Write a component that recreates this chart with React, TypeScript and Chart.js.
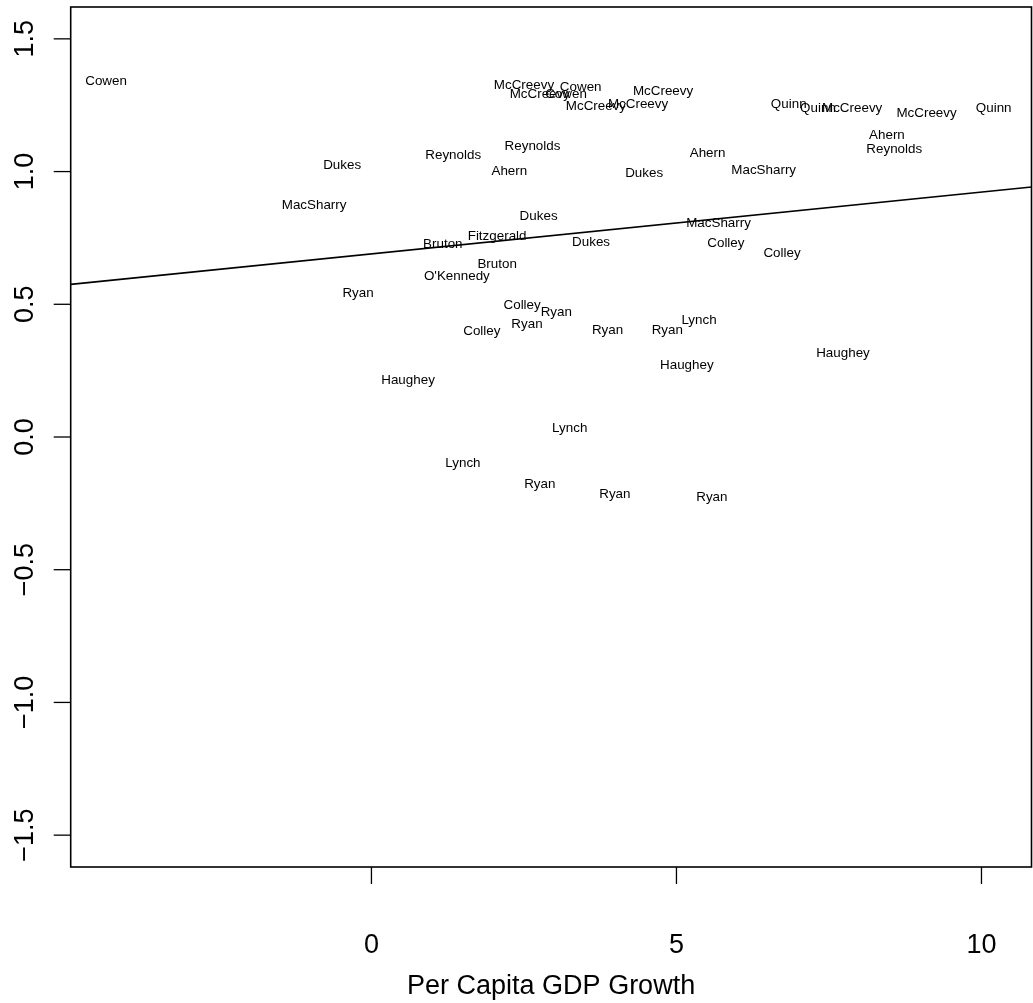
import { useEffect, useRef } from "react";
import { Chart, registerables } from "chart.js";

Chart.register(...registerables);

// Leader name shown at each point
const names = [
  "Cowen", "Dukes", "MacSharry", "Ryan", "Haughey",
  "Reynolds", "Reynolds", "Ahern", "Dukes", "Ahern",
  "Dukes", "Fitzgerald", "Bruton", "Dukes", "MacSharry",
  "Colley", "Colley", "Bruton", "O'Kennedy", "MacSharry",
  "Ahern", "Reynolds", "Colley", "Ryan", "Ryan",
  "Colley", "Ryan", "Ryan", "Lynch", "Haughey",
  "Haughey", "Lynch", "Lynch", "Ryan",
  "Ryan", "Ryan", "McCreevy", "McCreevy", "McCreevy",
  "McCreevy", "McCreevy", "Cowen", "Cowen", "Quinn",
  "Quinn", "Quinn", "McCreevy", "McCreevy",
];

// Per Capita GDP Growth (x)
const gdpGrowth = [
  -4.35, -0.48, -0.94, -0.22, 0.60,
  1.34, 2.64, 2.26, 4.47, 5.51,
  2.74, 2.06, 1.17, 3.60, 5.69,
  5.81, 6.73, 2.06, 1.40, 6.43,
  8.45, 8.57, 2.47, 3.03, 2.55,
  1.81, 3.87, 4.85, 5.37, 5.17,
  7.73, 3.25, 1.50, 2.76,
  3.99, 5.58, 2.50, 2.76, 4.78,
  3.68, 4.37, 3.19, 3.43, 6.84,
  7.32, 10.20, 7.88, 9.10,
];

// Score (y)
const scores = [
  1.348, 1.031, 0.880, 0.548, 0.221,
  1.068, 1.102, 1.008, 1.001, 1.076,
  0.839, 0.763, 0.733, 0.741, 0.812,
  0.737, 0.699, 0.658, 0.612, 1.012,
  1.144, 1.091, 0.503, 0.477, 0.432,
  0.405, 0.409, 0.409, 0.447, 0.277,
  0.323, 0.040, -0.093, -0.172,
  -0.209, -0.221, 1.332, 1.298, 1.310,
  1.253, 1.261, 1.298, 1.325, 1.261,
  1.246, 1.246, 1.246, 1.227,
];

// Fitted regression line (endpoints at the plot edges)
const fitX = [-4.93, 10.82];
const fitY = [0.575, 0.942];

const xTicks = [0, 5, 10];
const xTickLabels = ["0", "5", "10"];
const yTicks = [-1.5, -1.0, -0.5, 0.0, 0.5, 1.0, 1.5];
const yTickLabels = ["\u22121.5", "\u22121.0", "\u22120.5", "0.0", "0.5", "1.0", "1.5"];
const xTitle = "Per Capita GDP Growth";

const FONT = "'Liberation Sans', Arial, Helvetica, sans-serif";

export default function App() {
  const ref = useRef<HTMLCanvasElement>(null);

  useEffect(() => {
    const canvas = ref.current;
    if (!canvas) return;

    const rPlot = {
      id: "rPlot",
      afterDraw(chart: any) {
        const ctx = chart.ctx as CanvasRenderingContext2D;
        const { left, right, top, bottom } = chart.chartArea;
        const xs = chart.scales.x;
        const ys = chart.scales.y;
        ctx.save();
        ctx.fillStyle = "#000";
        ctx.strokeStyle = "#000";

        // point labels
        ctx.font = `13.4px ${FONT}`;
        ctx.textAlign = "center";
        ctx.textBaseline = "middle";
        const meta = chart.getDatasetMeta(0);
        meta.data.forEach((pt: any, i: number) => {
          ctx.fillText(names[i], pt.x, pt.y + 2);
        });

        // box
        ctx.lineWidth = 1.6;
        ctx.strokeRect(left, top, right - left, bottom - top);

        // x axis ticks
        ctx.lineWidth = 1.3;
        ctx.font = `27px ${FONT}`;
        ctx.textAlign = "center";
        ctx.textBaseline = "alphabetic";
        xTicks.forEach((v, i) => {
          const px = xs.getPixelForValue(v);
          ctx.beginPath();
          ctx.moveTo(px, bottom);
          ctx.lineTo(px, bottom + 17);
          ctx.stroke();
          ctx.fillText(xTickLabels[i], px, bottom + 86);
        });

        // y axis ticks
        yTicks.forEach((v, i) => {
          const py = ys.getPixelForValue(v);
          ctx.beginPath();
          ctx.moveTo(left, py);
          ctx.lineTo(left - 17, py);
          ctx.stroke();
          ctx.save();
          ctx.translate(left - 38, py);
          ctx.rotate(-Math.PI / 2);
          ctx.textAlign = "center";
          ctx.textBaseline = "alphabetic";
          ctx.fillText(yTickLabels[i], 0, 0);
          ctx.restore();
        });

        // x title
        ctx.textAlign = "center";
        ctx.textBaseline = "alphabetic";
        ctx.fillText(xTitle, (left + right) / 2, bottom + 127);

        ctx.restore();
      },
    };

    const chart = new Chart(canvas, {
      type: "scatter",
      data: {
        datasets: [
          {
            label: "leaders",
            data: gdpGrowth.map((x, i) => ({ x, y: scores[i] })),
            pointRadius: 0,
            pointHoverRadius: 0,
            showLine: false,
          },
          {
            label: "fit",
            data: fitX.map((x, i) => ({ x, y: fitY[i] })),
            showLine: true,
            borderColor: "#000",
            borderWidth: 1.6,
            pointRadius: 0,
            pointHoverRadius: 0,
            fill: false,
          },
        ],
      },
      options: {
        animation: false,
        responsive: false,
        devicePixelRatio: 1,
        events: [],
        layout: { padding: { top: 7, right: 1.5, left: 0, bottom: 0 } },
        plugins: {
          legend: { display: false },
          tooltip: { enabled: false },
          title: { display: false },
        },
        scales: {
          x: {
            type: "linear",
            min: -4.93,
            max: 10.82,
            grid: { display: false },
            border: { display: false },
            ticks: { display: false },
            afterFit: (s: any) => {
              s.height = 136;
            },
          },
          y: {
            type: "linear",
            min: -1.62,
            max: 1.62,
            grid: { display: false },
            border: { display: false },
            ticks: { display: false },
            afterFit: (s: any) => {
              s.width = 70.7;
            },
          },
        },
      },
      plugins: [rPlot],
    });

    return () => chart.destroy();
  }, []);

  return (
    <div style={{ position: "absolute", left: 0, top: 0, width: 1033, height: 1003, background: "#fff" }}>
      <canvas ref={ref} width={1033} height={1003} style={{ display: "block" }} />
    </div>
  );
}
